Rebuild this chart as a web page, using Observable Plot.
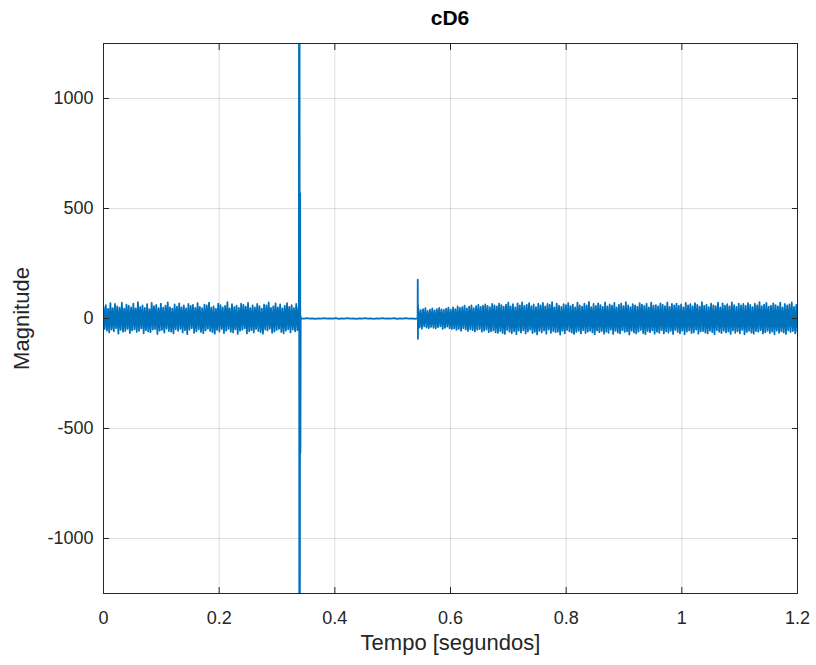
<!DOCTYPE html>
<html><head><meta charset="utf-8">
<script src="https://cdn.jsdelivr.net/npm/d3@7"></script>
<script src="https://cdn.jsdelivr.net/npm/@observablehq/plot@0.6"></script>
<style>
body{margin:0;background:#fff;}
#wrap{position:relative;width:816px;height:665px;overflow:hidden;font-family:"Liberation Sans",Arial,sans-serif;}
#title{position:absolute;left:350px;width:200px;top:6px;line-height:24px;text-align:center;font-weight:bold;font-size:21px;color:#000;}
#wrap svg{display:block;}
</style></head><body><div id="wrap"><div id="title">cD6</div></div>
<script>
const chartTitle = "cD6";
const xLabel = "Tempo [segundos]";
const yLabel = "Magnitude";
const xTicks = [0, 0.2, 0.4, 0.6, 0.8, 1, 1.2];
const yTicks = [-1000, -500, 0, 500, 1000];

// segment 1: steady oscillation before the first transient
const seg1Start = 0, seg1End = 0.3372;
const seg1Values = [52,-48,61,-55,44,-63,70,-50,47,-58,66,-44,55,-69,49,-52,72,-60,45,-57,63,-47,58,-66,50,-54,68,-49,46,-61,74,-56,52,-45,60,-67,48,-53,65,-59,43,-62,71,-50,56,-48,62,-70,47,-55,67,-52,49,-64,58,-46,73,-57,51,-60,45,-68,64,-49,54,-56,69,-47,50,-63,60,-53,46,-71,66,-51,57,-44,62,-65,48,-58,70,-50,53,-61,47,-67,63,-54,59,-46,72,-57,49,-62,55,-69,44,-52,68,-59,61,-48,50,-66,57,-55,74,-47,46,-60,65,-63,52,-49,58,-70,48,-56,67,-51,62,-45,54,-68,71,-58,47,-53,60,-64,50,-48,66,-57,56,-62,45,-69,63,-50,59,-54,73,-46,48,-65,55,-59,69,-52,51,-47,64,-61,46,-67,58,-55,70,-49,53,-63,61,-50,47,-58,66,-53,52];

// first transient (clipped beyond the axis limits)
const spike1Times = [0.3378, 0.3382, 0.3386, 0.3390, 0.3394, 0.3400, 0.3405, 0.3410];
const spike1Values = [40, 1900, -1900, 1900, -1900, 570, -610, 10];

// nearly flat segment
const flatStart = 0.3415, flatEnd = 0.5428;
const flatValues = [1,-1,2,-1,1,-2,1,-1,2,-1,1,-1,2,-2,1,-1,2,-1,1,-2,1,-1,2,-1,1,-2,1,-1,2,-1,1,-1,2,-2,1,-1,2,-1,1,-2,1];

// second transient
const spike2Times = [0.5431, 0.5434, 0.5437, 0.5440, 0.5443];
const spike2Values = [4, 177, -92, 60, -45];

// segment 3: oscillation after the second transient
const seg3Start = 0.5446, seg3End = 1.2;
const seg3Values = [44,-40,38,-46,42,-36,47,-41,35,-44,40,-38,46,-42,37,-45,43,-39,48,-36,41,-47,39,-43,45,-37,49,-44,40,-48,
50,-45,43,-52,55,-47,48,-56,52,-44,58,-50,46,-57,54,-49,60,-53,47,-59,56,-51,62,-48,53,-60,58,-55,64,-50,57,-62,52,-58,66,-54,60,-63,55,-65,
68,-57,61,-66,54,-70,63,-52,72,-60,55,-67,65,-58,50,-71,69,-55,60,-64,
73,-53,57,-68,62,-59,70,-51,56,-66,64,-61,52,-72,67,-56,59,-63,71,-54,
55,-69,66,-50,62,-65,74,-57,51,-62,68,-60,58,-73,53,-55,65,-67,61,-52,
70,-58,56,-64,63,-70,50,-61,72,-56,59,-68,54,-53,67,-66,60,-59,75,-55,
52,-63,66,-71,57,-54,69,-62,61,-57,53,-69,73,-60,55,-65,64,-51,58,-70,
71,-56,50,-64,62,-67,68,-53,56,-61,74,-58,59,-72,52,-55,65,-63,60,-68,
54,-59,70,-52,63,-66,57,-71,67,-57,51,-62,72,-54,58,-69,61,-60,55,-65,
69,-53,62,-68,56,-58,73,-64,53,-56,66,-70,60,-52,68,-61,57,-67,64,-55,
50,-72,71,-59,59,-54,65,-66,55,-63,70,-51,62,-69,54,-58,74,-57,57,-64,
63,-68,52,-55,67,-62,60,-71,56,-53,72,-60,51,-66,69,-56,58,-63,65,-59,
55,-70,73,-54,61,-65,53,-58,68,-67,59,-52,66,-72,57,-61,70,-55,62,-64,
52,-69,67,-57,60,-60,74,-53,56,-68,63,-62,71,-56,54,-66,58,-59,69,-71,
61,-55,55,-65,72,-58,50,-63,66,-70,59,-54,64,-61,73,-57,53,-67,62,-60];

function sampled(start, end, values) {
  const step = (end - start) / (values.length - 1);
  return values.map((v, i) => ({t: start + i * step, v}));
}
function listed(times, values) {
  return times.map((t, i) => ({t, v: values[i]}));
}
const signal = [
  ...sampled(seg1Start, seg1End, seg1Values),
  ...listed(spike1Times, spike1Values),
  ...sampled(flatStart, flatEnd, flatValues),
  ...listed(spike2Times, spike2Values),
  ...sampled(seg3Start, seg3End, seg3Values)
];

const ink = "#262626";
const chart = Plot.plot({
  width: 816,
  height: 665,
  marginLeft: 103,
  marginRight: 19,
  marginTop: 43,
  marginBottom: 72,
  style: {fontFamily: "Liberation Sans, Arial, sans-serif", fontSize: "18px", background: "white", color: ink},
  x: {domain: [0, 1.2]},
  y: {domain: [-1250, 1250]},
  marks: [
    Plot.gridX(xTicks, {stroke: ink, strokeOpacity: 0.15}),
    Plot.gridY(yTicks, {stroke: ink, strokeOpacity: 0.15}),
    Plot.line(signal, {x: "t", y: "v", stroke: "#0072BD", strokeWidth: 1.8, clip: true}),
    Plot.frame({stroke: ink, strokeWidth: 1}),
    Plot.axisX(xTicks, {anchor: "bottom", tickSize: 6, insetBottom: 6, fill: "none", label: null, stroke: ink}),
    Plot.axisX(xTicks, {anchor: "top", tickSize: 6, insetTop: 6, fill: "none", label: null, stroke: ink}),
    Plot.axisY(yTicks, {anchor: "left", tickSize: 6, insetLeft: 6, fill: "none", label: null, stroke: ink}),
    Plot.axisY(yTicks, {anchor: "right", tickSize: 6, insetRight: 6, fill: "none", label: null, stroke: ink}),
    Plot.axisX(xTicks, {anchor: "bottom", tickSize: 0, tickPadding: 18, tickFormat: d => String(d), fontSize: 18, fill: ink, label: null}),
    Plot.axisY(yTicks, {anchor: "left", tickSize: 0, tickPadding: 10, tickFormat: d => String(d), fontSize: 18, fill: ink, label: null}),
    Plot.text([xLabel], {text: d => d, frameAnchor: "bottom", textAnchor: "middle", dy: 56, fontSize: 22, fill: ink}),
    Plot.text([yLabel], {text: d => d, frameAnchor: "left", textAnchor: "middle", dx: -82, rotate: -90, fontSize: 22, fill: ink})
  ]
});
document.getElementById("title").textContent = chartTitle;
document.getElementById("wrap").appendChild(chart);
</script>
</body></html>
